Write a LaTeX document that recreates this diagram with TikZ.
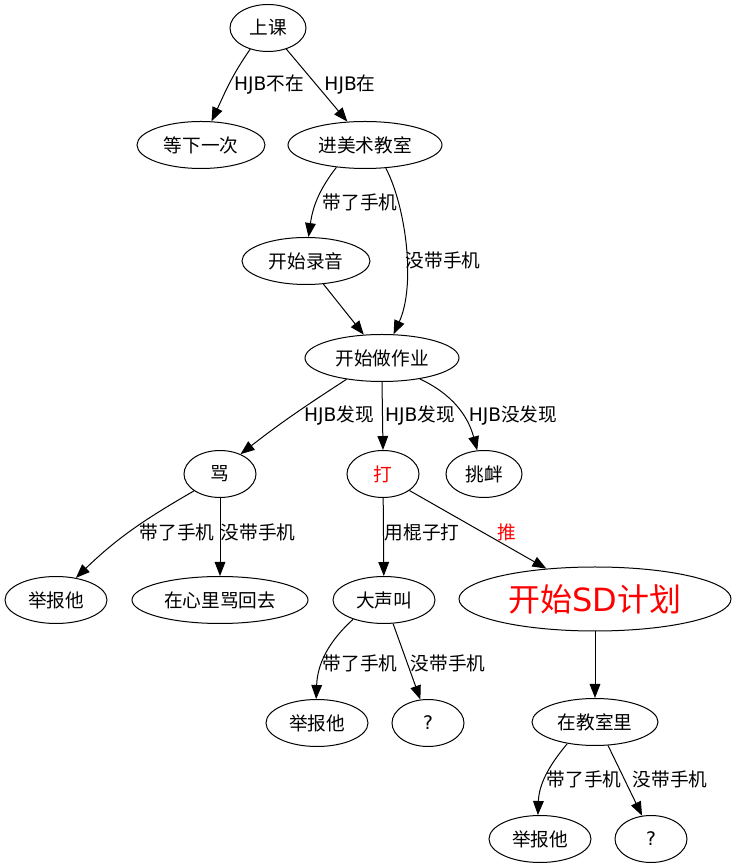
\documentclass[tikz,border=0pt]{standalone}
\usepackage{fontspec}
\setmainfont{Noto Sans CJK SC}
\newfontfamily\lat{DejaVu Sans}
\usetikzlibrary{shapes.geometric,arrows.meta}
\tikzset{
  gnode/.style 2 args={ellipse, draw, line width=0.75pt, inner sep=0pt,
    minimum width=#1*1.5pt, minimum height=#2*1.5pt,
    font=\fontsize{14pt}{16pt}\selectfont},
  gn/.style={gnode={#1}{23.5}},
  arr/.style={-{Triangle[length=10.5pt,width=8pt]}, line width=0.75pt},
  lbl/.style={font=\fontsize{14pt}{16pt}\selectfont, inner sep=0pt},
}
\newcommand\hjb{{\lat HJB}}
\begin{document}
\begin{tikzpicture}[x=0.75pt,y=0.75pt]
\useasboundingbox (0,0) rectangle (736,868);
% nodes
\node[gn=38] (sk) at (268,840) {上课};
\node[gn=64] (dx) at (201,723) {等下一次};
\node[gn=77] (jm) at (365,723) {进美术教室};
\node[gn=64] (ly) at (306,607) {开始录音};
\node[gn=77] (zy) at (382,510) {开始做作业};
\node[gn=36] (ma) at (220,394) {骂};
\node[gn=36,text=red] (da) at (383,394) {打};
\node[gn=38] (tx) at (484,394) {挑衅};
\node[gn=51] (jb1) at (56,268) {举报他};
\node[gn=88] (xl) at (220,268) {在心里骂回去};
\node[gn=51] (dsj) at (384,268) {大声叫};
\node[gnode={136}{32},text=red,font=\fontsize{24pt}{28pt}\selectfont] (sd) at (595,269) {开始{\lat SD}计划};
\node[gn=51] (jb2) at (317,145) {举报他};
\node[gn=36] (q1) at (428,145) {{\lat ?}};
\node[gn=63] (js) at (595,146) {在教室里};
\node[gn=51] (jb3) at (540,29) {举报他};
\node[gn=36] (q2) at (651,29) {{\lat ?}};
% edges
\draw[arr] (sk.230) to[out=235,in=65] (dx.66);
\draw[arr] (sk.311) -- (jm.127);
\draw[arr] (jm.218) to[out=232,in=82] (ly.84);
\draw[arr] (jm.312) .. controls (406,661) and (416,583) .. (zy.64);
\draw[arr] (ly.307) -- (zy.128);
\draw[arr] (zy.211) to[out=213,in=38] (ma.44);
\draw[arr] (zy.south) -- (da.north);
\draw[arr] (zy.331) to[out=335,in=105] (tx.106);
\draw[arr] (ma.213) to[out=210,in=44] (jb1.48);
\draw[arr] (ma) -- (xl);
\draw[arr] (da) -- (dsj);
\draw[arr] (da.328) -- (sd.148);
\draw[arr] (dsj.212) to[out=222,in=88] (jb2.92);
\draw[arr] (dsj.291) -- (q1.108);
\draw[arr] (sd) -- (js);
\draw[arr] (js.218) to[out=230,in=88] (jb3.95);
\draw[arr] (js.299) -- (q2.111);
% labels
\node[lbl] (l1) at (269,783) {\hjb 不在};
\node[lbl] (l2) at (350,783) {\hjb 在};
\node[lbl] (l3) at (360,666) {带了手机};
\node[lbl] (l4) at (443,608) {没带手机};
\node[lbl] (l5) at (339,453) {\hjb 发现};
\node[lbl] (l6) at (420,453) {\hjb 发现};
\node[lbl] (l7) at (513,453) {\hjb 没发现};
\node[lbl] (l8) at (177,336) {带了手机};
\node[lbl] (l9) at (258,336) {没带手机};
\node[lbl] (l10) at (422,336) {用棍子打};
\node[lbl,text=red] (l11) at (507,336) {推};
\node[lbl] (l12) at (360,205) {带了手机};
\node[lbl] (l13) at (448,205) {没带手机};
\node[lbl] (l14) at (584,89) {带了手机};
\node[lbl] (l15) at (670,89) {没带手机};
\end{tikzpicture}
\end{document}
